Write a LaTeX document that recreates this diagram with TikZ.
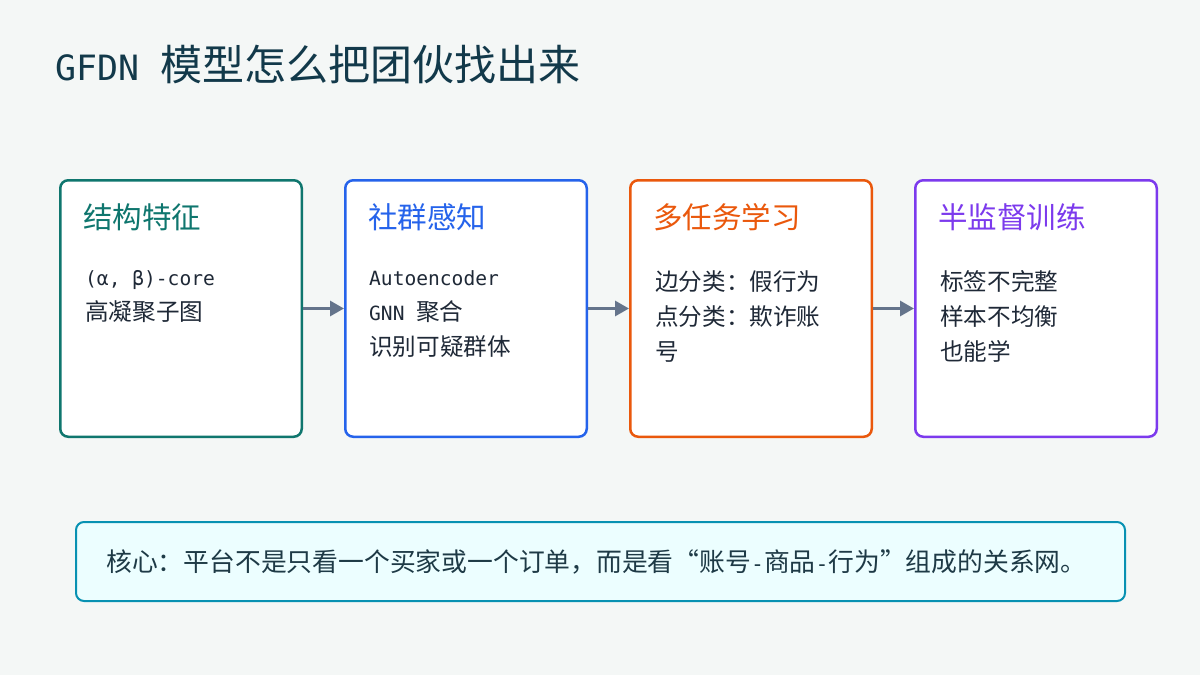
\documentclass[tikz,border=0pt]{standalone}
\usepackage{fontspec}
\setmainfont{Noto Sans CJK SC}
\newfontfamily\latinmono{DejaVu Sans Mono}[Scale=0.83]
\usetikzlibrary{arrows.meta}

\definecolor{bgcol}{HTML}{F4F7F6}
\definecolor{titlecol}{HTML}{12394A}
\definecolor{bodytext}{HTML}{1F2937}
\definecolor{structcol}{HTML}{0F766E}
\definecolor{commcol}{HTML}{2563EB}
\definecolor{taskcol}{HTML}{EA580C}
\definecolor{semicol}{HTML}{7C3AED}
\definecolor{arrowgray}{HTML}{64748B}
\definecolor{corefill}{HTML}{ECFEFF}
\definecolor{coreline}{HTML}{0891B2}
\definecolor{coretext}{HTML}{1E3A46}

\tikzset{
	card/.style={draw=#1, line width=2.5pt, rounded corners=8pt, fill=white,
		minimum width=241.5pt, minimum height=256.5pt, inner sep=0pt},
	cardhead/.style={anchor=west, inner sep=0pt, text=#1, font=\fontsize{29.5}{35}\selectfont},
	cardbody/.style={anchor=north west, inner sep=0pt, align=left, text=bodytext,
		font=\fontsize{23.6}{35}\selectfont},
	flow/.style={line width=3pt, draw=arrowgray, -{Triangle[length=14pt,width=15pt]}},
}

\begin{document}
\begin{tikzpicture}[x=1pt,y=-1pt]

	\fill[bgcol] (0,0) rectangle (1200,675);
	\useasboundingbox (0,0) rectangle (1200,675);

	\node[anchor=west, inner sep=0pt, text=titlecol, font=\fontsize{42}{48}\selectfont] (title) at (55,64) {{\latinmono GFDN }模型怎么把团伙找出来};

	\node[card=structcol] (structure) at (181,308.5) {};
	\node[card=commcol] (community) at (466,308.5) {};
	\node[card=taskcol] (multitask) at (751,308.5) {};
	\node[card=semicol] (semisup) at (1036,308.5) {};

	\node[cardhead=structcol] (structhead) at (83,217) {结构特征};
	\node[cardhead=commcol] (commhead) at (368,217) {社群感知};
	\node[cardhead=taskcol] (taskhead) at (653,217) {多任务学习};
	\node[cardhead=semicol] (semihead) at (938,217) {半监督训练};

	\node[cardbody] (structbody) at (85,270) {{\latinmono (α, β)-core}\\高凝聚子图};
	\node[cardbody] (commbody) at (369,270) {{\latinmono Autoencoder}\\{\latinmono GNN }聚合\\识别可疑群体};
	\node[cardbody] (taskbody) at (655,270) {边分类：假行为\\点分类：欺诈账\\号};
	\node[cardbody] (semibody) at (940,270) {标签不完整\\样本不均衡\\也能学};

	\draw[flow] (structure.east) -- (community.west);
	\draw[flow] (community.east) -- (multitask.west);
	\draw[flow] (multitask.east) -- (semisup.west);

	\node[draw=coreline, line width=2pt, rounded corners=8pt, fill=corefill,
		minimum width=1049pt, minimum height=79pt, inner sep=0pt] (core) at (600.5,561.5) {};
	\node[anchor=west, inner sep=0pt, text=coretext, font=\fontsize{25.8}{30}\selectfont] (coretext) at (106,562) {核心：平台不是只看一个买家或一个订单，而是看“账号{\latinmono -}商品{\latinmono -}行为”组成的关系网。};

\end{tikzpicture}
\end{document}
